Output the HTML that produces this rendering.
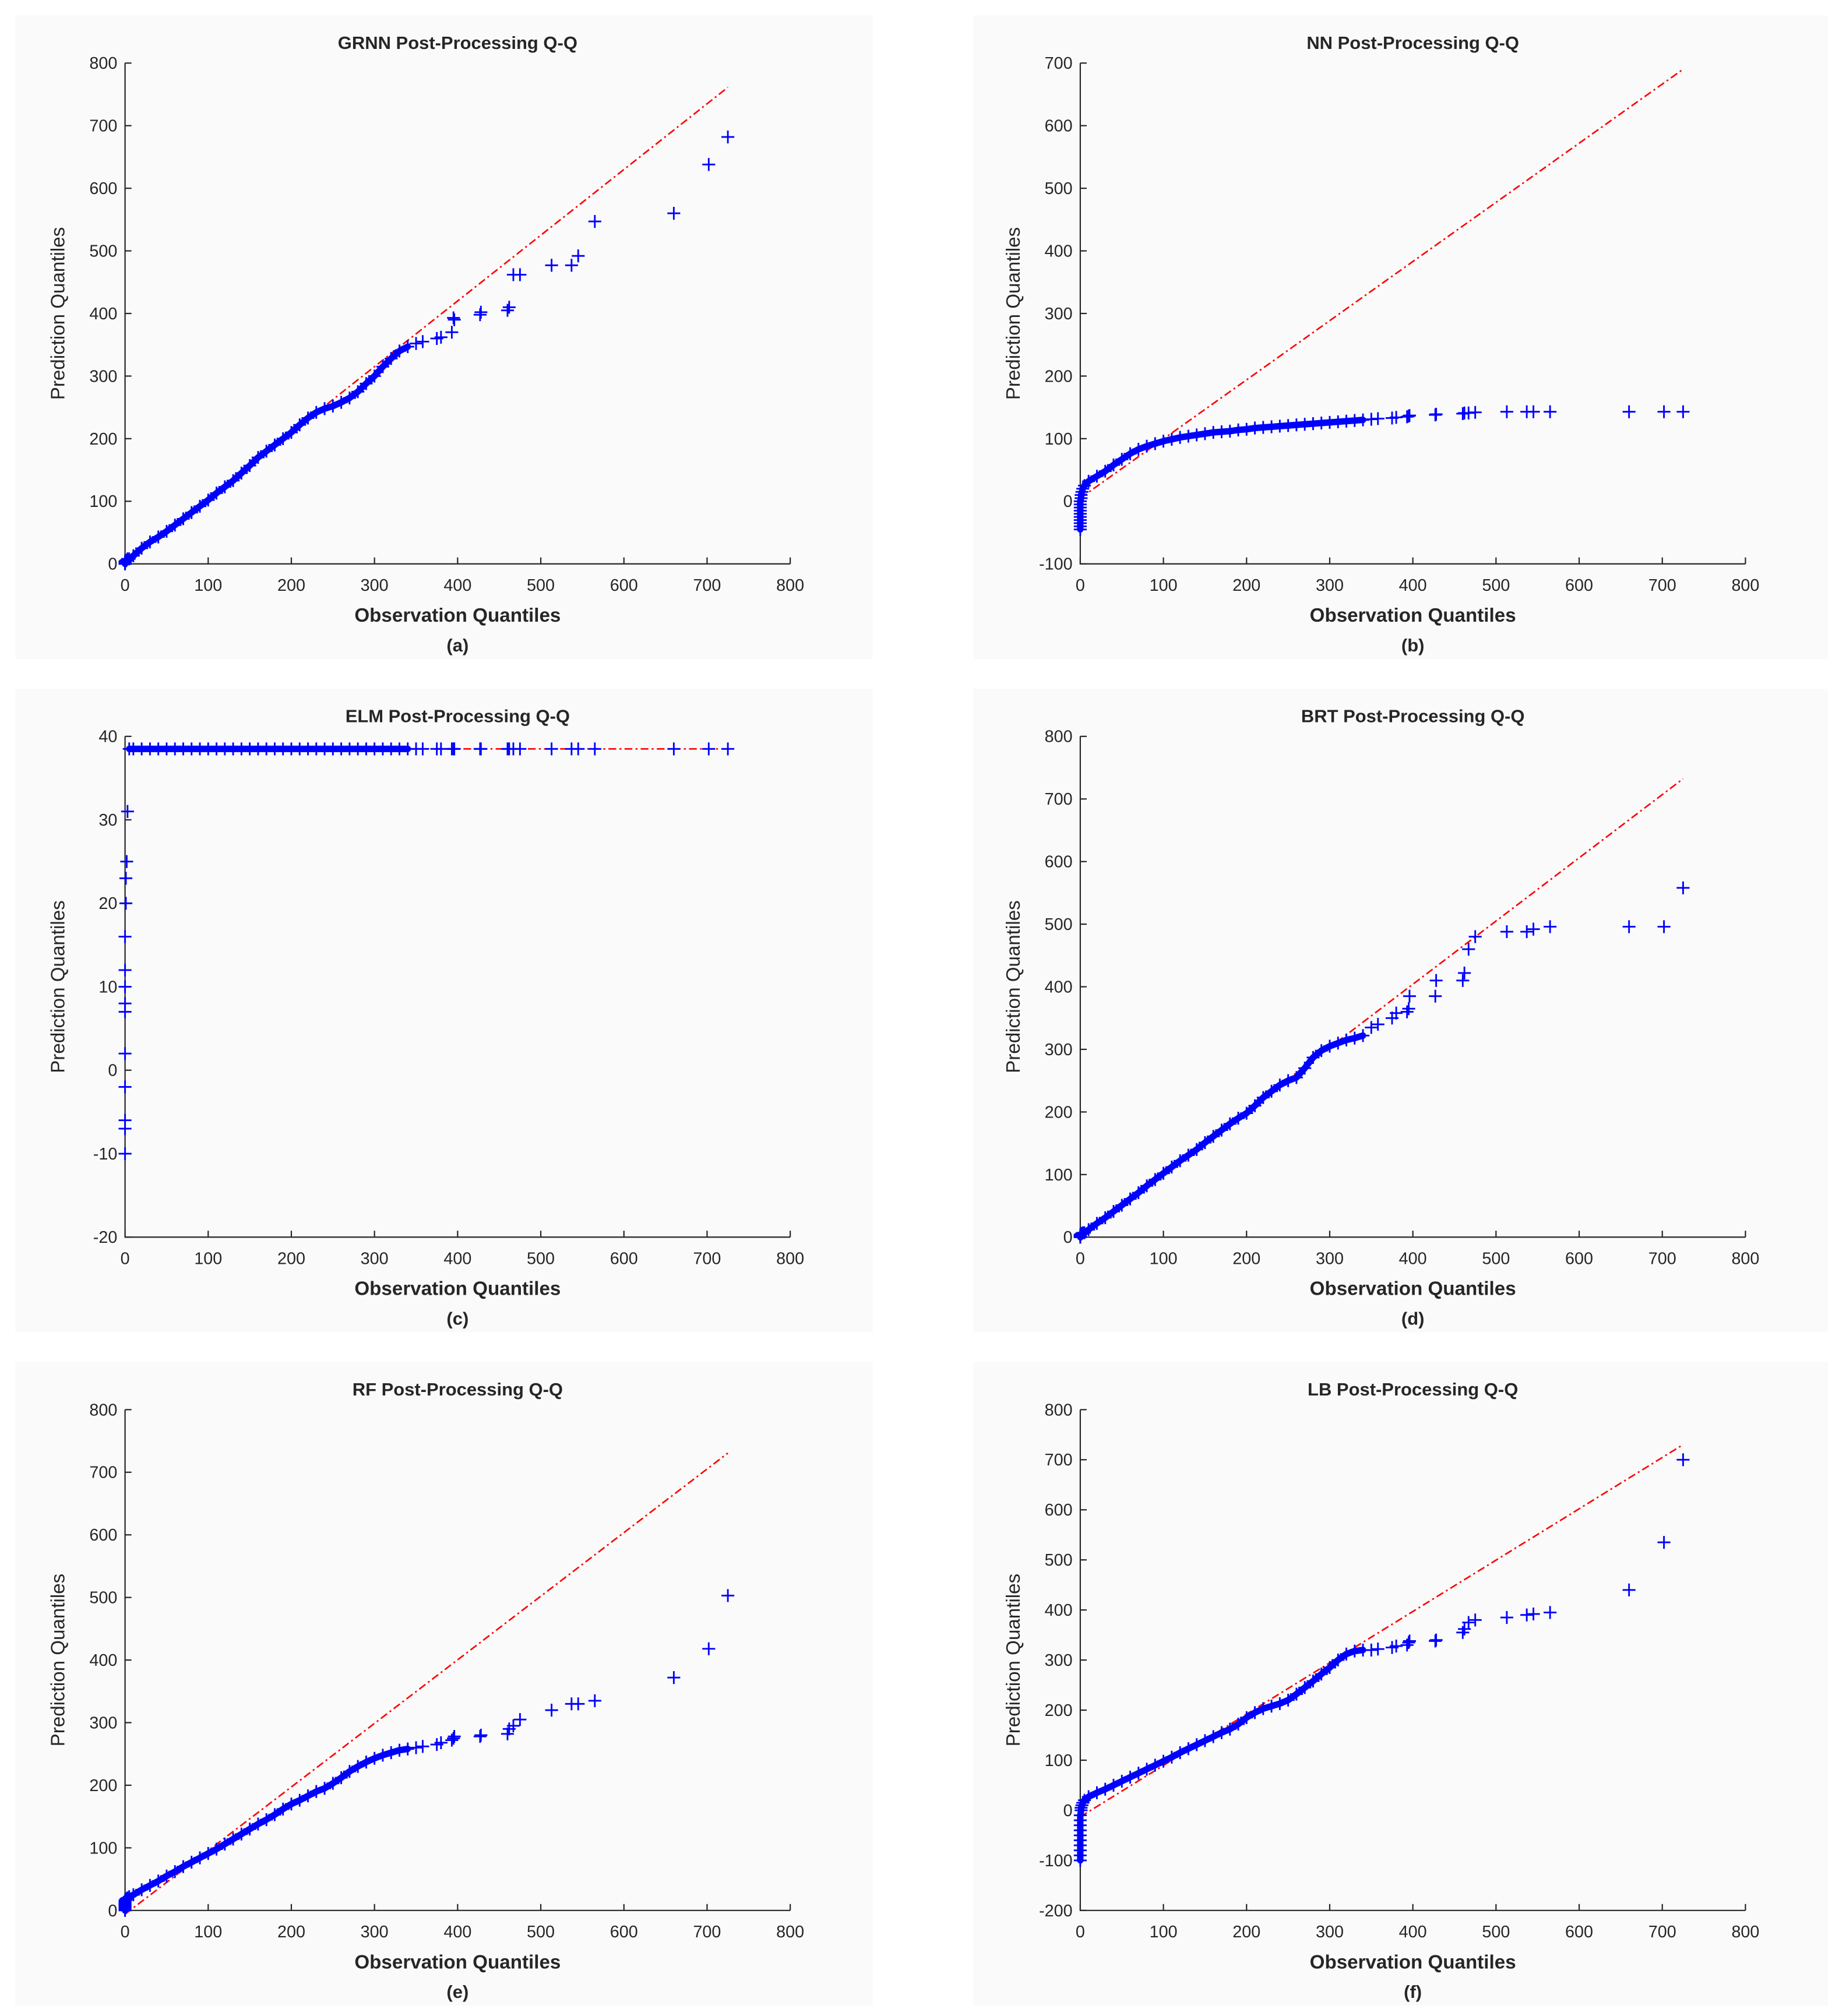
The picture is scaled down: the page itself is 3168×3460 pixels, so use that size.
<!DOCTYPE html>
<html><head><meta charset="utf-8"><style>
html,body{margin:0;padding:0;background:#fff;}
svg{display:block;}
text{font-family:"Liberation Sans",Arial,sans-serif;fill:#262626;}
</style></head><body>
<svg id="fig" width="3168" height="3460" viewBox="0 0 1432 1566" preserveAspectRatio="none" xmlns="http://www.w3.org/2000/svg"></svg>
<script>
const obs = [0,0,0,0,0,0,0,0,0,0,1,1,2,3,
 5,10,20,30,40,50,60,70,80,90,100,110,120,130,140,150,160,170,180,190,200,210,220,230,240,250,260,270,280,290,300,310,320,330,340,
 350,358,375,380,393,395,396,427,428,460,462,467,475,513,537,545,565,660,702,725];
const predGRNN = [0,0,0,1,1,2,2,3,3,4,5,5,6,8,
 8,13,25,35,43,52,62,72,82,92,102,113,123,133,145,157,170,180,190,200,210,222,233,242,248,252,258,265,275,288,300,315,328,340,347,
 352,355,360,362,370,393,390,398,402,405,410,462,462,477,477,492,547,560,638,682];
const predNN = [-45,-40,-35,-30,-25,-20,-15,-10,-5,0,5,10,15,20,
 25,32,40,48,58,67,76,83,88,92,96,99,102,104,106,108,110,111,112,114,115,117,118,119,120,121,122,123,124,125,126,127,128,129,130,
 131,132,133,134,135,136,137,138,139,140,141,141,142,143,143,143,143,143,143,143];
const predELM = [-10,-7,-6,-2,2,7,8,10,12,16,20,23,25,31,
 38.5,38.5,38.5,38.5,38.5,38.5,38.5,38.5,38.5,38.5,38.5,38.5,38.5,38.5,38.5,38.5,38.5,38.5,38.5,38.5,38.5,38.5,38.5,38.5,38.5,38.5,38.5,38.5,38.5,38.5,38.5,38.5,38.5,38.5,38.5,
 38.5,38.5,38.5,38.5,38.5,38.5,38.5,38.5,38.5,38.5,38.5,38.5,38.5,38.5,38.5,38.5,38.5,38.5,38.5,38.5];
const predBRT = [0,0,1,1,2,2,3,3,4,4,5,5,6,7,
 7,12,22,31,41,51,61,71,82,92,102,112,122,131,140,151,161,171,181,190,198,210,223,233,243,250,255,270,287,298,305,310,315,318,322,
 335,340,350,358,360,365,385,385,410,410,422,460,480,488,488,492,496,496,496,558];
const predRF = [0,2,4,6,8,10,12,14,15,16,17,18,19,20,
 22,25,33,40,47,55,62,70,77,84,91,98,106,114,122,130,138,145,153,162,170,176,183,190,195,203,212,222,230,237,243,248,252,256,258,
 260,262,265,268,272,275,278,278,280,282,290,295,305,320,330,330,335,372,418,503];
const predLB = [-100,-90,-80,-70,-60,-50,-40,-30,-20,-10,0,5,10,15,
 20,27,35,42,50,58,66,74,82,90,98,106,115,123,131,139,147,155,162,172,185,195,203,208,213,220,232,245,258,272,285,300,312,318,320,
 320,322,325,328,330,335,338,338,340,355,362,375,380,385,390,392,395,440,535,700];
const xTicks = [0,100,200,300,400,500,600,700,800];
const yTicksA = [0,100,200,300,400,500,600,700,800];
const yTicksB = [-100,0,100,200,300,400,500,600,700];
const yTicksC = [-20,-10,0,10,20,30,40];
const yTicksF = [-200,-100,0,100,200,300,400,500,600,700,800];
const titles = ["GRNN Post-Processing Q-Q","NN Post-Processing Q-Q","ELM Post-Processing Q-Q","BRT Post-Processing Q-Q","RF Post-Processing Q-Q","LB Post-Processing Q-Q"];
const tags = ["(a)","(b)","(c)","(d)","(e)","(f)"];
const refSlope = [1.05,0.945,0,1.01,1.016,1.025];
const refIntercept = [0,5,38.5,0,-6,-13];
const denseCount = 49;
const bandStart = [0,0,14,0,0,0];

const NS="http://www.w3.org/2000/svg";
const svg=document.getElementById('fig');
function mk(tag,attrs,parent){const e=document.createElementNS(NS,tag);for(const k in attrs)e.setAttribute(k,attrs[k]);(parent||svg).appendChild(e);return e;}

const panels=[
 {pred:predGRNN,yt:yTicksA,col:0,row:0},
 {pred:predNN,yt:yTicksB,col:1,row:0},
 {pred:predELM,yt:yTicksC,col:0,row:1},
 {pred:predBRT,yt:yTicksA,col:1,row:1},
 {pred:predRF,yt:yTicksA,col:0,row:2},
 {pred:predLB,yt:yTicksF,col:1,row:2}];
const keys=['grnn','nn','elm','brt','rf','lb'];

panels.forEach((p,i)=>{
 const bgX=p.col?755:12, bgW=p.col?663:665;
 const bgY=12+p.row*523;
 const ax0=p.col?838:97, ax1=ax0+516;
 const ayTop=49+p.row*523, ayBot=438+p.row*523;
 const ymin=p.yt[0], ymax=p.yt[p.yt.length-1];
 const sx=v=>ax0+(v-0)/(800-0)*(ax1-ax0);
 const sy=v=>ayBot-(v-ymin)/(ymax-ymin)*(ayBot-ayTop);
 const g=mk('g',{});
 
 
 const bg=mk('rect',{x:bgX,y:bgY,width:bgW,height:500,fill:'#fafafa'},g);
 
 
 const t=mk('text',{x:(ax0+ax1)/2,y:ayTop-11,'text-anchor':'middle','font-size':'14','font-weight':'bold'},g);
 t.textContent=titles[i];
 
 
 const axl=mk('path',{d:`M${ax0},${ayTop}V${ayBot}H${ax1}`,stroke:'#262626','stroke-width':'1',fill:'none'},g);
 
 
 xTicks.forEach(v=>{
  const x=sx(v);
  mk('line',{x1:x,x2:x,y1:ayBot,y2:ayBot-5,stroke:'#262626','stroke-width':'1'},g);
  const tl=mk('text',{x:x,y:ayBot+21,'text-anchor':'middle','font-size':'13'},g);
  tl.textContent=v;
  
  
 });
 p.yt.forEach(v=>{
  const y=sy(v);
  mk('line',{x1:ax0,x2:ax0+5,y1:y,y2:y,stroke:'#262626','stroke-width':'1'},g);
  const tl=mk('text',{x:ax0-6,y:y+4.5,'text-anchor':'end','font-size':'13'},g);
  tl.textContent=v;
  
  
 });
 const xl=mk('text',{x:(ax0+ax1)/2,y:ayBot+45,'text-anchor':'middle','font-size':'15','font-weight':'bold'},g);
 xl.textContent='Observation Quantiles';
 
 
 const tg=mk('text',{x:(ax0+ax1)/2,y:ayBot+68,'text-anchor':'middle','font-size':'14','font-weight':'bold'},g);
 tg.textContent=tags[i];
 
 
 const ycx=ax0-47, ycy=(ayTop+ayBot)/2;
 const yl=mk('text',{x:ycx,y:ycy,'text-anchor':'middle','font-size':'15',transform:`rotate(-90 ${ycx} ${ycy})`},g);
 yl.textContent='Prediction Quantiles';
 
 
 const x0=0,x1=725;
 const rl=mk('line',{x1:sx(x0),y1:sy(refIntercept[i]+refSlope[i]*x0),x2:sx(x1),y2:sy(refIntercept[i]+refSlope[i]*x1),stroke:'#ff0000','stroke-width':'1.2','stroke-dasharray':'6 2.5 1.5 2.5'},g);
 
 
 let d='';
 for(let j=bandStart[i];j<denseCount;j++){d+=(j>bandStart[i]?'L':'M')+sx(obs[j])+','+sy(p.pred[j]);}
 const band=mk('path',{d:d,stroke:'#0000ff','stroke-width':'5','stroke-linejoin':'round','stroke-linecap':'round',fill:'none'},g);
 
 
 const pg=mk('g',{stroke:'#0000ff','stroke-width':'1.3',fill:'none'},g);
 
 
 obs.forEach((o,j)=>{
  const x=sx(o), y=sy(p.pred[j]);
  const pt=mk('path',{d:`M${x-5},${y}H${x+5}M${x},${y-5}V${y+5}`},pg);
  
  
 });
});
</script>
</body></html>
